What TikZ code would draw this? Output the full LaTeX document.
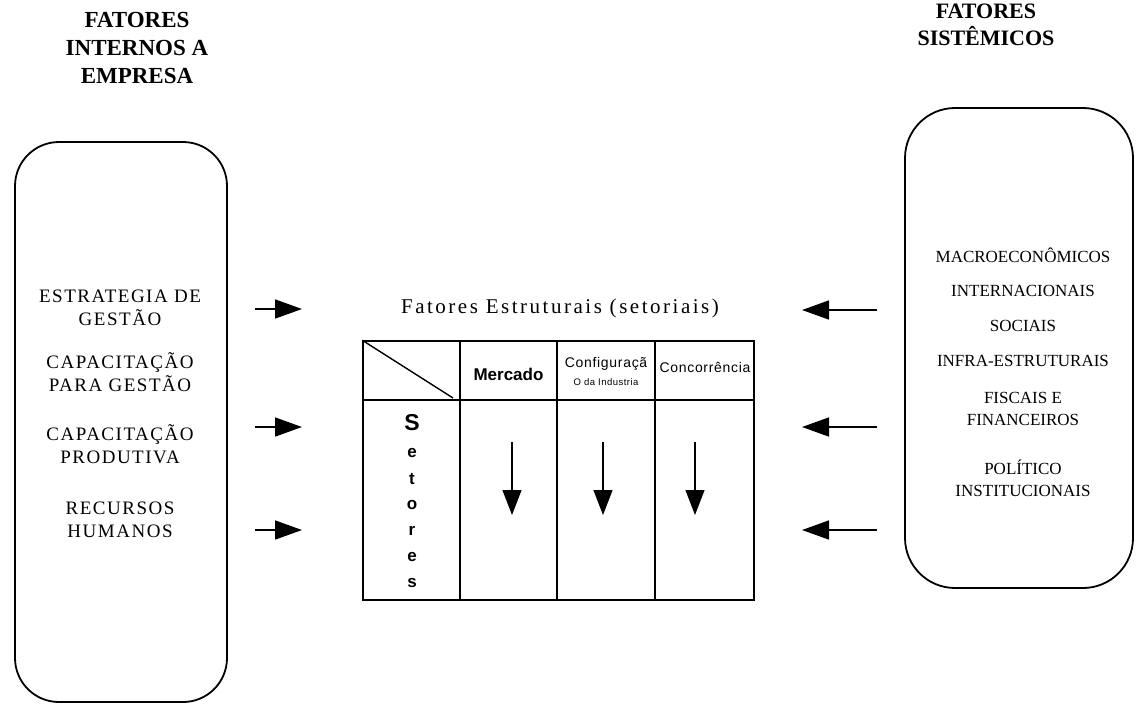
\documentclass[tikz,border=0pt]{standalone}
\usepackage{fontspec}
\setmainfont{Liberation Serif}
\newfontfamily\labelsans{Liberation Sans}
\newfontfamily\widesans[LetterSpace=5]{Liberation Sans}
\newfontfamily\spacedserif[LetterSpace=8]{Liberation Serif}
\newfontfamily\titleserif[LetterSpace=12]{Liberation Serif}
\usetikzlibrary{arrows.meta}
\begin{document}
\begin{tikzpicture}[x=1pt,y=-1pt,
  panel/.style={draw, line width=1.8pt, rounded corners=44pt, inner sep=0pt},
  gridline/.style={line width=1.5pt},
  feed/.style={line width=1.7pt, -{Triangle[length=27pt,width=19pt]}},
  down/.style={line width=1.1pt, -{Triangle[length=25pt,width=19pt]}},
  heading/.style={font=\fontsize{23}{28}\selectfont\bfseries, align=center, inner sep=0pt},
  factor/.style={font=\spacedserif\fontsize{19}{23}\selectfont, align=center, inner sep=0pt},
  sysfactor/.style={font=\fontsize{17}{22}\selectfont, align=center, inner sep=0pt},
  colhead/.style={font=\widesans\fontsize{14}{16}\selectfont, inner sep=0pt},
  rowletter/.style={font=\labelsans\bfseries\fontsize{17}{20}\selectfont, inner sep=0pt}
]
\useasboundingbox (0,0) rectangle (1137,705);

% headings
\node[heading] (inttitle) at (137,48) {FATORES\\INTERNOS A\\EMPRESA};
\node[heading, font=\fontsize{22}{27}\selectfont\bfseries] (systitle) at (986,25) {FATORES\\SISTÊMICOS};

% side panels
\node[panel, minimum width=212pt, minimum height=560pt] (intbox) at (121,422) {};
\node[panel, rounded corners=50pt, minimum width=228pt, minimum height=480pt] (sysbox) at (1019,348) {};

% internal factors
\node[factor] (estr) at (120,308) {ESTRATEGIA DE\\GESTÃO};
\node[factor] (capg) at (120,372) {CAPACITAÇÃO\\PARA GESTÃO};
\node[factor] (capp) at (120,444) {CAPACITAÇÃO\\PRODUTIVA};
\node[factor] (rh)   at (120,520) {RECURSOS\\HUMANOS};

% systemic factors
\node[sysfactor] (macro) at (1023,255) {MACROECONÔMICOS};
\node[sysfactor] (inter) at (1023,291) {INTERNACIONAIS};
\node[sysfactor] (soc)   at (1023,326) {SOCIAIS};
\node[sysfactor] (infra) at (1023,361) {INFRA-ESTRUTURAIS};
\node[sysfactor] (fisc)  at (1023,409) {FISCAIS E\\FINANCEIROS};
\node[sysfactor] (pol)   at (1023,478) {POLÍTICO\\INSTITUCIONAIS};

% structural factors table
\node[font=\titleserif\fontsize{21}{24}\selectfont, inner sep=0pt] (tbltitle) at (560,308) {Fatores Estruturais (setoriais)};
\node[draw, gridline, minimum width=391pt, minimum height=259pt, inner sep=0pt] (tbl) at (558.5,470.5) {};
\coordinate (c1t) at (460,341); \coordinate (c1b) at (460,600);
\coordinate (c2t) at (557,341); \coordinate (c2b) at (557,600);
\coordinate (c3t) at (655,341); \coordinate (c3b) at (655,600);
\coordinate (hl) at (363,400);  \coordinate (hr) at (754,400);
\coordinate (diag) at (453,398);
\draw[gridline] (c1t) -- (c1b);
\draw[gridline] (c2t) -- (c2b);
\draw[gridline] (c3t) -- (c3b);
\draw[gridline] (hl) -- (hr);
\draw[line width=1.4pt] (tbl.north west) -- (diag);

\node[font=\labelsans\bfseries\fontsize{17}{19}\selectfont, inner sep=0pt] (merc) at (508.5,374) {Mercado};
\node[colhead] (conf) at (606,364) {Configuraçã};
\node[font=\widesans\fontsize{9.5}{11}\selectfont, inner sep=0pt] (confb) at (606,382) {O da Industria};
\node[colhead] (conc) at (705,367) {Concorrência};

% row label, one letter per line
\node[rowletter, font=\labelsans\bfseries\fontsize{23}{26}\selectfont] (s1) at (412,423) {S};
\node[rowletter] (s2) at (412,453) {e};
\node[rowletter] (s3) at (412,479) {t};
\node[rowletter] (s4) at (412,505) {o};
\node[rowletter] (s5) at (412,531) {r};
\node[rowletter] (s6) at (412,557) {e};
\node[rowletter] (s7) at (412,583) {s};

% downward arrows in the columns
\coordinate (d1s) at (512,442); \coordinate (d1e) at (512,515);
\coordinate (d2s) at (603,442); \coordinate (d2e) at (603,515);
\coordinate (d3s) at (695,442); \coordinate (d3e) at (695,515);
\draw[down] (d1s) -- (d1e);
\draw[down] (d2s) -- (d2e);
\draw[down] (d3s) -- (d3e);

% arrows from the internal factors
\coordinate (l1s) at (255,309); \coordinate (l1e) at (302,309);
\coordinate (l2s) at (255,427); \coordinate (l2e) at (302,427);
\coordinate (l3s) at (255,530); \coordinate (l3e) at (302,530);
\draw[feed] (l1s) -- (l1e);
\draw[feed] (l2s) -- (l2e);
\draw[feed] (l3s) -- (l3e);

% arrows from the systemic factors
\coordinate (r1s) at (877,310); \coordinate (r1e) at (802,310);
\coordinate (r2s) at (877,427); \coordinate (r2e) at (802,427);
\coordinate (r3s) at (877,530); \coordinate (r3e) at (802,530);
\draw[feed] (r1s) -- (r1e);
\draw[feed] (r2s) -- (r2e);
\draw[feed] (r3s) -- (r3e);
\end{tikzpicture}
\end{document}
